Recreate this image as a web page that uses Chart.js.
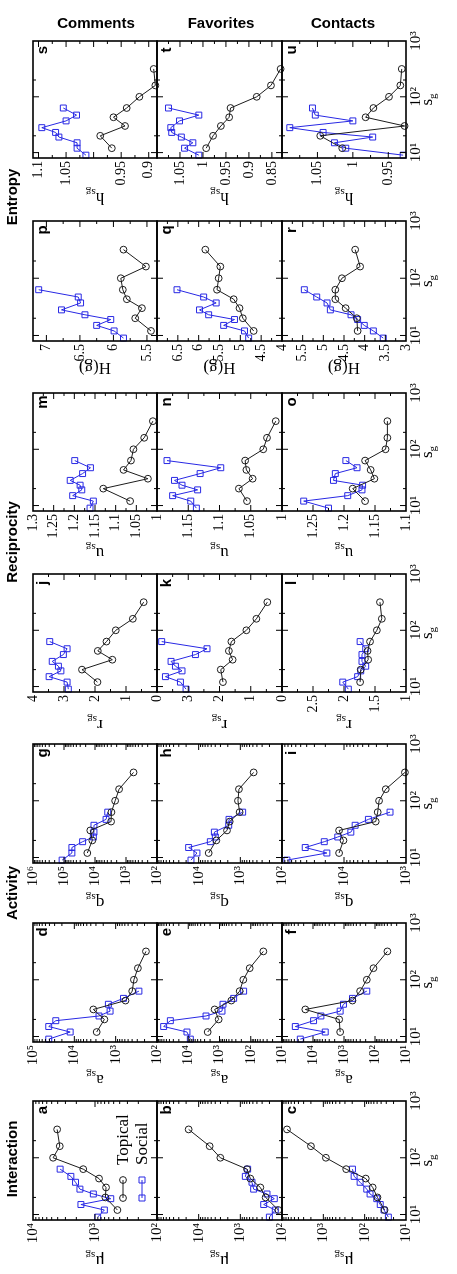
<!DOCTYPE html>
<html>
<head>
<meta charset="utf-8">
<title>Topical vs social groups</title>
<script src="https://cdn.jsdelivr.net/npm/chart.js@4.4.1/dist/chart.umd.min.js"></script>
<style>
  html, body { margin: 0; padding: 0; background: #fff; overflow: hidden; width: 457px; height: 1274px; }
  /* the figure is laid out landscape and turned a quarter turn to the left */
  #fig { position: absolute; left: 0; top: 0; width: 1274px; height: 457px;
         transform-origin: 0 0; transform: translateY(1274px) rotate(-90deg); }
  #fig canvas { position: absolute; }
</style>
</head>
<body>
<div id="fig"><canvas id="labels" width="1274" height="457" style="left:0;top:0"></canvas></div>
<script>
// group size bins (s_g)
const sgTopical = [12, 20, 30, 43, 63, 100, 160, 316];
const sgSocial  = [9, 12, 15, 19, 23, 28, 37, 47, 63];

// Interaction
const aTopical = [435, 680, 664, 861, 1548, 4740, 3700, 4080];
const aSocial  = [906, 706, 1687, 557, 1064, 1750, 2060, 2450, 3650];
const bTopical = [122, 247, 331, 575, 692, 3020, 5450, 17400];
const bSocial  = [201, 145, 275, 153, 229, 479, 525, 759, 667];
const cTopical = [33, 49, 64, 94, 280, 867, 1995, 7570];
const cSocial  = [26.7, 34, 42, 51, 74, 89, 129, 180, 197];
// Activity
const dTopical = [2880, 1875, 3470, 578, 398, 362, 290, 185];
const dSocial  = [41600, 12600, 41600, 28100, 2530, 1365, 1500, 647, 274];
const eTopical = [2390, 1063, 1430, 418, 226, 173, 108, 39.5];
const eSocial  = [8580, 11000, 61200, 37400, 2700, 832, 773, 352, 169];
const fTopical = [1330, 1430, 17700, 533, 302, 184, 112, 39.8];
const fSocial  = [25700, 4030, 37200, 9570, 5560, 1330, 1040, 533, 184];
const gTopical = [17700, 12200, 14200, 3030, 2950, 2240, 1670, 571];
const gSocial  = [115000, 55700, 55700, 25100, 11300, 10800, 10800, 4400, 3880];
const hTopical = [5750, 3770, 2090, 1800, 1040, 1140, 1080, 479];
const hSocial  = [15300, 11000, 17400, 5250, 3980, 4200, 1900, 1870, 879];
const iTopical = [12000, 10200, 12000, 3080, 2860, 2720, 2120, 1040];
const iSocial  = [83200, 18900, 42200, 20800, 12600, 7760, 6610, 4040, 1810];
// Reciprocity
const jTopical = [1.92, 2.42, 1.44, 1.91, 1.63, 1.33, 0.78, 0.43];
const jSocial  = [2.86, 2.90, 3.48, 3.10, 3.18, 3.38, 3.02, 2.90, 3.46];
const kTopical = [1.89, 1.96, 1.58, 1.70, 1.62, 1.14, 0.82, 0.47];
const kSocial  = [3.07, 3.25, 3.73, 3.20, 3.41, 3.55, 2.77, 2.40, 3.85];
const lTopical = [1.74, 1.73, 1.61, 1.62, 1.58, 1.47, 1.39, 1.42];
const lSocial  = [1.93, 2.02, 1.78, 1.73, 1.65, 1.71, 1.71, 1.65, 1.74];
const mTopical = [1.065, 1.13, 1.022, 1.081, 1.063, 1.057, 1.031, 1.010];
const mSocial  = [1.162, 1.154, 1.204, 1.182, 1.186, 1.210, 1.180, 1.161, 1.199];
const nTopical = [1.056, 1.069, 1.047, 1.057, 1.059, 1.030, 1.024, 1.010];
const nSocial  = [1.137, 1.146, 1.175, 1.135, 1.160, 1.172, 1.131, 1.098, 1.184];
const oTopical = [1.166, 1.186, 1.151, 1.157, 1.166, 1.133, 1.130, 1.130];
const oSocial  = [1.225, 1.265, 1.194, 1.171, 1.170, 1.217, 1.214, 1.179, 1.197];
// Entropy
const pTopical = [5.44, 5.675, 5.575, 5.80, 5.86, 5.89, 5.515, 5.85];
const pSocial  = [5.85, 5.99, 6.25, 6.04, 6.425, 6.775, 6.49, 6.525, 7.115];
const qTopical = [4.68, 4.94, 5.02, 5.16, 5.56, 5.52, 5.48, 5.84];
const qSocial  = [4.80, 4.90, 5.40, 5.14, 5.76, 5.98, 5.58, 5.88, 6.52];
const rTopical = [4.17, 4.19, 4.46, 4.71, 4.71, 4.55, 4.11, 4.23];
const rSocial  = [3.55, 3.79, 4.01, 4.17, 4.33, 4.83, 4.91, 5.16, 5.46];
const sTopical = [0.967, 0.988, 0.943, 0.964, 0.940, 0.917, 0.888, 0.891];
const sSocial  = [1.014, 1.030, 1.030, 1.063, 1.069, 1.094, 1.050, 1.031, 1.055];
const tTopical = [0.993, 0.978, 0.961, 0.943, 0.940, 0.883, 0.852, 0.831];
const tSocial  = [1.009, 1.040, 1.022, 1.047, 1.068, 1.070, 1.051, 1.009, 1.075];
const uTopical = [1.015, 1.046, 0.927, 0.982, 0.971, 0.949, 0.933, 0.931];
const uSocial  = [0.929, 1.010, 1.026, 0.972, 1.042, 1.089, 1.000, 1.053, 1.057];

// tick labels
const sgTicks = [10, 100, 1000];
const sgMinor = [20, 200];
const yTicksA = [1e2, 1e3, 1e4], yTicksB = [1e2, 1e3, 1e4], yTicksC = [1e1, 1e2, 1e3];
const yTicksD = [1e2, 1e3, 1e4, 1e5], yTicksE = [1e1, 1e2, 1e3, 1e4], yTicksF = [1e1, 1e2, 1e3, 1e4];
const yTicksG = [1e2, 1e3, 1e4, 1e5, 1e6], yTicksH = [1e2, 1e3, 1e4], yTicksI = [1e3, 1e4];
const yTicksJ = [0, 1, 2, 3, 4], yTicksK = [0, 1, 2, 3], yTicksL = [1, 1.5, 2, 2.5];
const yTicksM = [1, 1.05, 1.1, 1.15, 1.2, 1.25, 1.3], yTicksN = [1, 1.05, 1.1, 1.15], yTicksO = [1.1, 1.15, 1.2, 1.25];
const yTicksP = [5.5, 6, 6.5, 7], yTicksQ = [4, 4.5, 5, 5.5, 6, 6.5], yTicksR = [3, 3.5, 4, 4.5, 5, 5.5];
const yTicksS = [0.9, 0.95, 1.05, 1.1], yTicksT = [0.85, 0.9, 0.95, 1, 1.05], yTicksU = [0.95, 1, 1.05];

const groupNames = ['Interaction', 'Activity', 'Reciprocity', 'Entropy'];
const rowNames = ['Comments', 'Favorites', 'Contacts'];
const yTitleMain = ['μ', 'a', 'q', 'r', 'u', 'H(g)', 'h'];
const yTitleSub  = ['sg', 'sg', 'sg', 'sg', 'sg', '', 'sg'];

// layout (landscape coordinates before the turn)
const colLeft  = [54, 232, 411, 582, 763, 933, 1116];
const colWidth = [119, 119, 119, 118, 118, 120, 117];
const rowTop    = [33, 157, 282];
const rowBottom = [157, 282, 406];
const titleOffset = [42, 39, 41, 34, 43, 28, 41];

const INK = '#1c1c1c';
const BLUE = 'rgb(40,40,228)';
const SERIF = '"Liberation Serif", "DejaVu Serif", serif';
const SANS = '"Liberation Sans", Arial, sans-serif';

const panels = [
  { id: 'a', top: aTopical, soc: aSocial, log: true, min: 1e2, max: 1e4, ticks: yTicksA },
  { id: 'b', top: bTopical, soc: bSocial, log: true, min: 1e2, max: 1e5, ticks: yTicksB },
  { id: 'c', top: cTopical, soc: cSocial, log: true, min: 1e1, max: 1e4, ticks: yTicksC },
  { id: 'd', top: dTopical, soc: dSocial, log: true, min: 1e2, max: 1e5, ticks: yTicksD },
  { id: 'e', top: eTopical, soc: eSocial, log: true, min: 1e1, max: 1e5, ticks: yTicksE },
  { id: 'f', top: fTopical, soc: fSocial, log: true, min: 1e1, max: 1e5, ticks: yTicksF },
  { id: 'g', top: gTopical, soc: gSocial, log: true, min: 1e2, max: 1e6, ticks: yTicksG },
  { id: 'h', top: hTopical, soc: hSocial, log: true, min: 1e2, max: 1e5, ticks: yTicksH },
  { id: 'i', top: iTopical, soc: iSocial, log: true, min: 1e3, max: 1e5, ticks: yTicksI },
  { id: 'j', top: jTopical, soc: jSocial, min: 0, max: 4, step: 1, ticks: yTicksJ },
  { id: 'k', top: kTopical, soc: kSocial, min: 0, max: 4, step: 1, ticks: yTicksK },
  { id: 'l', top: lTopical, soc: lSocial, min: 1, max: 3, step: 0.5, ticks: yTicksL },
  { id: 'm', top: mTopical, soc: mSocial, min: 1, max: 1.3, step: 0.05, ticks: yTicksM },
  { id: 'n', top: nTopical, soc: nSocial, min: 1, max: 1.2, step: 0.05, ticks: yTicksN },
  { id: 'o', top: oTopical, soc: oSocial, min: 1.1, max: 1.3, step: 0.05, ticks: yTicksO },
  { id: 'p', top: pTopical, soc: pSocial, min: 5.35, max: 7.2, step: 0.5, ticks: yTicksP },
  { id: 'q', top: qTopical, soc: qSocial, min: 4, max: 7, step: 0.5, ticks: yTicksQ },
  { id: 'r', top: rTopical, soc: rSocial, min: 3, max: 6, step: 0.5, ticks: yTicksR },
  { id: 's', top: sTopical, soc: sSocial, min: 0.885, max: 1.11, step: 0.05, ticks: yTicksS },
  { id: 't', top: tTopical, soc: tSocial, min: 0.828, max: 1.1, step: 0.05, ticks: yTicksT },
  { id: 'u', top: uTopical, soc: uSocial, min: 0.925, max: 1.1, step: 0.05, ticks: yTicksU }
];

const SUP = { '0': '⁰', '1': '¹', '2': '²', '3': '³', '4': '⁴', '5': '⁵', '6': '⁶', '-': '⁻' };
function powLabel(v) {
  const e = String(Math.round(Math.log10(v)));
  return '10' + e.split('').map(c => SUP[c]).join('');
}
function numLabel(v) { return String(Math.round(v * 1000) / 1000); }

// major / minor tick values of the value axis
function valueTicks(p) {
  const major = [], minor = [];
  if (p.log) {
    for (let e = Math.floor(Math.log10(p.min)); e <= Math.ceil(Math.log10(p.max)); e++) {
      const base = Math.pow(10, e);
      if (base >= p.min && base <= p.max) major.push(base);
      for (let k = 2; k <= 9; k++) if (k * base > p.min && k * base < p.max) minor.push(k * base);
    }
  } else {
    const half = p.step / 2;
    for (let i = Math.ceil(p.min / half - 1e-6); i * half <= p.max + 1e-9; i++) {
      (i % 2 === 0 ? major : minor).push(i * half);
    }
  }
  return { major, minor };
}

function drawSubText(ctx, x, y, main, sub, size, rotate) {
  ctx.save();
  ctx.translate(x, y);
  if (rotate) ctx.rotate(-Math.PI / 2);
  ctx.font = size + 'px ' + SERIF;
  const mw = ctx.measureText(main).width;
  ctx.font = Math.round(size * 0.65) + 'px ' + SERIF;
  const sw = sub ? ctx.measureText(sub).width : 0;
  const x0 = -(mw + sw) / 2;
  ctx.textAlign = 'left';
  ctx.textBaseline = 'alphabetic';
  ctx.fillStyle = '#000';
  ctx.font = size + 'px ' + SERIF;
  ctx.fillText(main, x0, size * 0.33);
  if (sub) {
    ctx.font = Math.round(size * 0.65) + 'px ' + SERIF;
    ctx.fillText(sub, x0 + mw, size * 0.33 + size * 0.28);
  }
  ctx.restore();
}

function framePlugin(p, col, row) {
  const vt = valueTicks(p);
  return {
    id: 'frame_' + p.id,
    afterDraw(chart) {
      const ctx = chart.ctx, ca = chart.chartArea;
      const xs = chart.scales.x, ys = chart.scales.y;
      ctx.save();
      ctx.strokeStyle = '#000';
      ctx.lineWidth = 1;
      ctx.beginPath();
      const tx = (v, len) => {
        const px = xs.getPixelForValue(v);
        if (px < ca.left + 1 || px > ca.right - 1) return;
        ctx.moveTo(px, ca.top); ctx.lineTo(px, ca.top + len);
        ctx.moveTo(px, ca.bottom); ctx.lineTo(px, ca.bottom - len);
      };
      const ty = (v, len) => {
        const py = ys.getPixelForValue(v);
        if (py < ca.top + 1 || py > ca.bottom - 1) return;
        ctx.moveTo(ca.left, py); ctx.lineTo(ca.left + len, py);
        ctx.moveTo(ca.right, py); ctx.lineTo(ca.right - len, py);
      };
      sgTicks.forEach(v => tx(v, 6));
      sgMinor.forEach(v => tx(v, 3));
      vt.major.forEach(v => ty(v, 6));
      vt.minor.forEach(v => ty(v, 3));
      ctx.stroke();
      ctx.lineWidth = 1.6;
      ctx.strokeRect(ca.left, ca.top, ca.right - ca.left, ca.bottom - ca.top);

      // panel letter
      ctx.fillStyle = '#000';
      ctx.font = 'bold 15px ' + SANS;
      ctx.textAlign = 'center';
      ctx.textBaseline = 'alphabetic';
      ctx.fillText(p.id, ca.right - 9, ca.top + 14);

      // axis titles
      const midY = (ca.top + ca.bottom) / 2;
      drawSubText(ctx, ca.left - titleOffset[col], midY, yTitleMain[col], yTitleSub[col], 17, true);
      if (row === 2) drawSubText(ctx, (ca.left + ca.right) / 2, ca.bottom + 20, 's', 'g', 17, false);

      // legend (panel a only)
      if (p.id === 'a') {
        const items = [[ca.top + 90, INK, 'circle', 'Topical'], [ca.top + 109, BLUE, 'rect', 'Social']];
        items.forEach(([y, color, shape, text]) => {
          const x0 = ca.left + 22, x1 = ca.left + 40;
          ctx.strokeStyle = color;
          ctx.lineWidth = 1;
          ctx.beginPath(); ctx.moveTo(x0, y); ctx.lineTo(x1, y); ctx.stroke();
          [x0, x1].forEach(x => {
            ctx.beginPath();
            if (shape === 'circle') ctx.arc(x, y, 3.4, 0, Math.PI * 2);
            else ctx.rect(x - 3, y - 3, 6, 6);
            ctx.stroke();
          });
          ctx.fillStyle = '#000';
          ctx.font = '17px ' + SERIF;
          ctx.textAlign = 'left';
          ctx.fillText(text, ca.left + 55, y + 5);
        });
      }
      ctx.restore();
    }
  };
}

const fig = document.getElementById('fig');

panels.forEach((p, idx) => {
  const col = Math.floor(idx / 3), row = idx % 3;
  const left = colLeft[col], top = rowTop[row];
  const w = colWidth[col], h = rowBottom[row] - top;
  const L = 62, R = 14, T = 12, B = row === 2 ? 44 : 12;
  const cv = document.createElement('canvas');
  cv.width = w + L + R;
  cv.height = h + T + B;
  cv.style.left = (left - L) + 'px';
  cv.style.top = (top - T) + 'px';
  fig.appendChild(cv);

  new Chart(cv, {
    type: 'line',
    data: {
      datasets: [
        {
          label: 'Topical',
          data: sgTopical.map((x, i) => ({ x, y: p.top[i] })),
          borderColor: INK, borderWidth: 1,
          pointStyle: 'circle', pointRadius: 3.4, pointBorderWidth: 1,
          pointBorderColor: INK, pointBackgroundColor: 'rgba(0,0,0,0)',
          tension: 0, fill: false, clip: false
        },
        {
          label: 'Social',
          data: sgSocial.map((x, i) => ({ x, y: p.soc[i] })),
          borderColor: BLUE, borderWidth: 1,
          pointStyle: 'rect', pointRadius: 4.2, pointBorderWidth: 1,
          pointBorderColor: BLUE, pointBackgroundColor: 'rgba(0,0,0,0)',
          tension: 0, fill: false, clip: false
        }
      ]
    },
    options: {
      responsive: false,
      animation: false,
      devicePixelRatio: 1,
      events: [],
      layout: { autoPadding: false, padding: { left: 0, right: R, top: T, bottom: 0 } },
      plugins: { legend: { display: false }, tooltip: { enabled: false } },
      scales: {
        x: {
          type: 'logarithmic', min: 8, max: 1000,
          grid: { display: false, drawTicks: false },
          border: { display: false },
          ticks: {
            display: row === 2, autoSkip: false, maxRotation: 0, minRotation: 0,
            padding: 1, color: '#000', font: { family: SERIF, size: 15 },
            callback: v => powLabel(v)
          },
          afterBuildTicks: s => { s.ticks = sgTicks.map(v => ({ value: v })); },
          afterFit: s => { s.height = B; }
        },
        y: {
          type: p.log ? 'logarithmic' : 'linear', min: p.min, max: p.max,
          grid: { display: false, drawTicks: false },
          border: { display: false },
          ticks: {
            autoSkip: false, padding: 3, color: '#000',
            font: { family: SERIF, size: p.log ? 15 : 14 },
            callback: v => (p.log ? powLabel(v) : numLabel(v))
          },
          afterBuildTicks: s => { s.ticks = p.ticks.map(v => ({ value: v })); },
          afterFit: s => { s.width = L; }
        }
      }
    },
    plugins: [framePlugin(p, col, row)]
  });
});

// group headers and row names
const lc = document.getElementById('labels').getContext('2d');
lc.fillStyle = '#000';
lc.font = 'bold 15px ' + SANS;
lc.textAlign = 'center';
lc.textBaseline = 'alphabetic';
const groupCenter = [115, 381, 732, 1077];
groupNames.forEach((g, i) => lc.fillText(g, groupCenter[i], 17));
const rowCenter = [96, 221, 343];
rowNames.forEach((r, i) => {
  lc.save();
  lc.translate(1246, rowCenter[i]);
  lc.rotate(Math.PI / 2);
  lc.fillText(r, 0, 0);
  lc.restore();
});
</script>
</body>
</html>
